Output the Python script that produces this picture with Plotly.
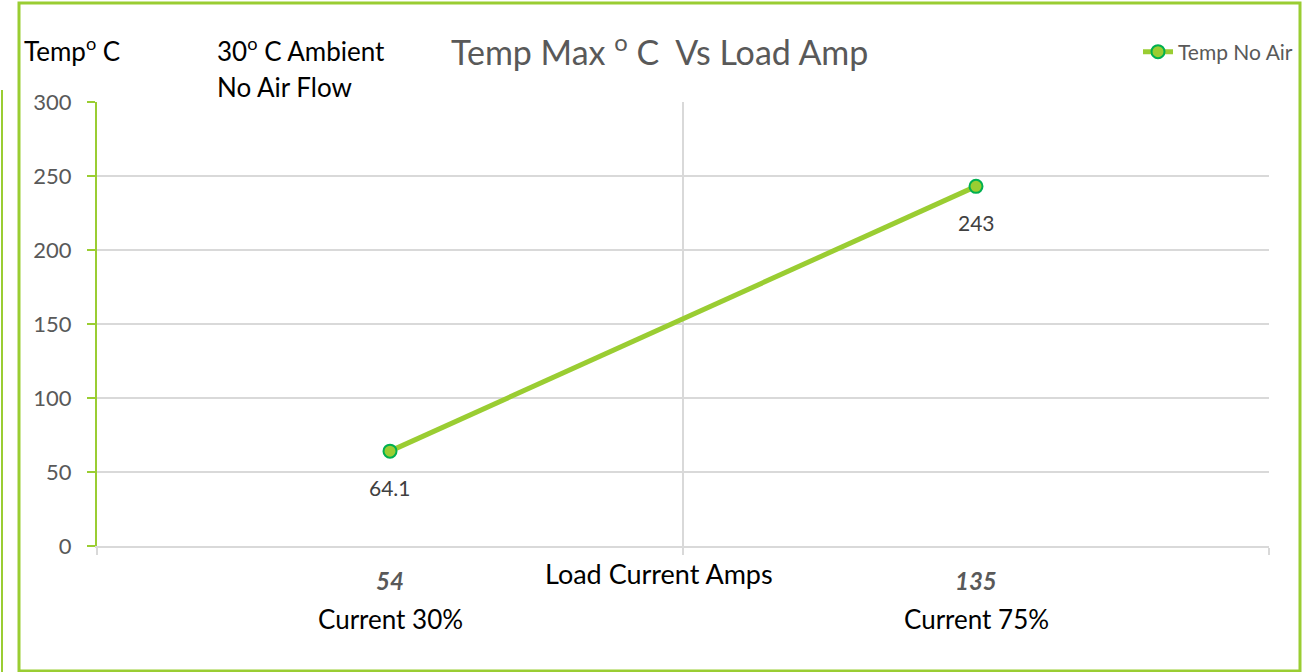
import plotly.graph_objects as go

# ---- data ----
categories = ["Current 30%", "Current 75%"]
amps = ["54", "135"]
temp_no_air = [64.1, 243]
y_ticks = [0, 50, 100, 150, 200, 250, 300]
series_name = "Temp No Air"

W, H = 1309, 672
GREEN = "#9ACD32"
FONT = "Lato"

def px(x):
    return x / W

def py(y):
    return 1 - y / H

x_pos = [i + 0.5 for i in range(len(categories))]

fig = go.Figure()
fig.add_trace(go.Scatter(
    x=x_pos, y=temp_no_air, mode="lines+markers", name=series_name,
    line=dict(color=GREEN, width=5),
    marker=dict(size=13, color=GREEN, line=dict(color="#00B050", width=2)),
    showlegend=True,
))

# data labels
for xv, yv in zip(x_pos, temp_no_air):
    fig.add_annotation(x=xv, y=yv, xref="x", yref="y", text=f"{yv:g}",
                       showarrow=False, yshift=-36, yanchor="middle",
                       font=dict(family=FONT, size=21, color="#404040"))

# category labels (two-line)
for xv, a, c in zip(x_pos, amps, categories):
    fig.add_annotation(x=xv, y=py(580), xref="x", yref="paper", yanchor="middle",
                       text=f"<b><i>{a}</i></b>", showarrow=False,
                       font=dict(family=FONT, size=24, color="#595959"))
    fig.add_annotation(x=xv, y=py(619), xref="x", yref="paper", yanchor="middle",
                       text=c, showarrow=False,
                       font=dict(family=FONT, size=26, color="black"))

# axis title, texts
fig.add_annotation(x=px(659), y=py(573), xref="paper", yref="paper",
                   xanchor="center", yanchor="middle",
                   text="Load Current Amps", showarrow=False,
                   font=dict(family=FONT, size=27, color="black"))
fig.add_annotation(x=px(659), y=py(50), xref="paper", yref="paper",
                   xanchor="center", yanchor="middle",
                   text="Temp Max <sup>o</sup> C  Vs Load Amp", showarrow=False,
                   font=dict(family=FONT, size=34, color="#595959"))
fig.add_annotation(x=px(22), y=py(50), xref="paper", yref="paper",
                   xanchor="left", yanchor="middle",
                   text="Temp<sup>o</sup> C", showarrow=False,
                   font=dict(family=FONT, size=26, color="black"))
fig.add_annotation(x=px(215), y=py(50), xref="paper", yref="paper",
                   xanchor="left", yanchor="middle",
                   text="30<sup>o</sup> C Ambient", showarrow=False,
                   font=dict(family=FONT, size=26, color="black"))
fig.add_annotation(x=px(215), y=py(87), xref="paper", yref="paper",
                   xanchor="left", yanchor="middle",
                   text="No Air Flow", showarrow=False,
                   font=dict(family=FONT, size=26, color="black"))

# border and side line
fig.add_shape(type="rect", xref="paper", yref="paper",
              x0=px(19), x1=px(1300), y0=py(671), y1=py(3),
              line=dict(color=GREEN, width=3))
fig.add_shape(type="line", xref="paper", yref="paper",
              x0=px(2), x1=px(2), y0=py(90), y1=py(672),
              line=dict(color=GREEN, width=2))

fig.update_layout(
    width=W, height=H,
    margin=dict(l=0, r=0, t=0, b=0, autoexpand=False),
    paper_bgcolor="white", plot_bgcolor="white",
    font=dict(family=FONT),
    showlegend=True,
    legend=dict(x=px(1138), y=py(52), xanchor="left", yanchor="middle",
                bgcolor="rgba(0,0,0,0)",
                font=dict(family=FONT, size=21, color="#595959")),
    xaxis=dict(domain=[px(97), px(1269)], range=[0, len(categories)],
               tickvals=list(range(len(categories) + 1)), automargin=False,
               showticklabels=False, showgrid=True, gridcolor="#D9D9D9",
               gridwidth=1.5, zeroline=False,
               showline=True, linecolor="#D9D9D9", linewidth=2,
               ticks="outside", ticklen=7, tickcolor="#D9D9D9", tickwidth=1.5),
    yaxis=dict(domain=[py(546), py(102)], range=[0, 300], automargin=False,
               tickvals=y_ticks, showgrid=True, gridcolor="#D9D9D9",
               gridwidth=1.5, zeroline=False,
               showline=True, linecolor=GREEN, linewidth=2,
               ticks="outside", ticklen=8, tickcolor=GREEN, tickwidth=2,
               ticklabelstandoff=11,
               tickfont=dict(family=FONT, size=22, color="#595959")),
)

fig.write_html("out.html", config={"displayModeBar": False},
               post_script="document.body.style.margin='0';document.body.style.overflow='hidden';")
